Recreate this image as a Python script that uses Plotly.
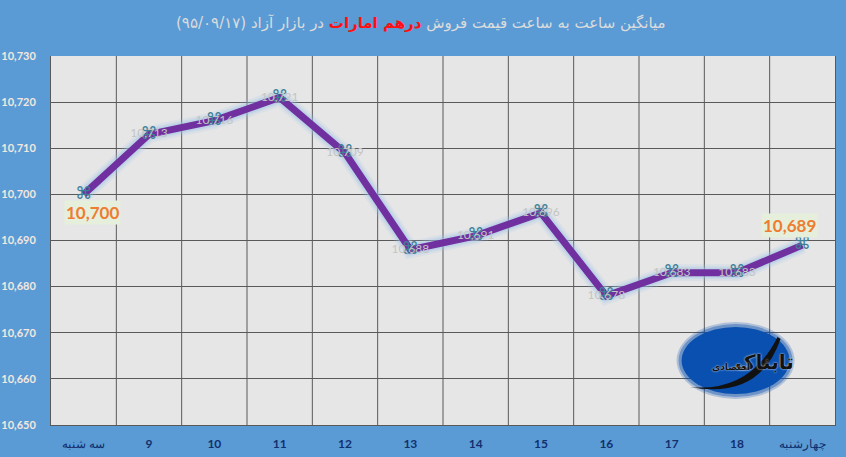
import plotly.graph_objects as go

categories = ['سه شنبه', '9', '10', '11', '12', '13', '14', '15', '16', '17', '18', 'چهارشنبه']
tick_text = ['سه شنبه', '<b>9</b>', '<b>10</b>', '<b>11</b>', '<b>12</b>', '<b>13</b>', '<b>14</b>', '<b>15</b>',
             '<b>16</b>', '<b>17</b>', '<b>18</b>', 'چهارشنبه']
prices = [10700, 10713, 10716, 10721, 10709, 10688, 10691, 10696, 10678, 10683, 10683, 10689]
y_ticks = [10650, 10660, 10670, 10680, 10690, 10700, 10710, 10720, 10730]
price_labels = [f'{p:,}' for p in prices]
mid_labels = [t if i not in (0, 11) else '' for i, t in enumerate(price_labels)]

bg = '#5b9bd5'
title_font = 'DejaVu Sans'
num_font = 'Lato'


def px_x(p):
    return (p - 51) / 784.5


def px_y(p):
    return (425 - p) / 369


fig = go.Figure()

# soft glow under the line
for w, op in [(17, 0.16), (13, 0.22), (10, 0.3)]:
    fig.add_trace(go.Scatter(x=categories, y=prices, mode='lines', hoverinfo='skip',
                             line=dict(color='#9dc3e6', width=w), opacity=op))

fig.add_trace(go.Scatter(x=categories, y=prices, mode='lines', hoverinfo='skip',
                         line=dict(color='#7030a0', width=7)))

# the odd marker looks like a command key sign
fig.add_trace(go.Scatter(x=categories, y=prices, mode='text', hoverinfo='skip',
                         text=['⌘'] * len(prices), textposition='middle center',
                         textfont=dict(family='DejaVu Sans', size=17, color='#3f7f96')))

fig.add_trace(go.Scatter(x=categories, y=prices, mode='text', hoverinfo='skip',
                         text=mid_labels, textposition='middle center',
                         textfont=dict(family=num_font, size=12, color='#c4c4c4')))

fig.add_annotation(x=categories[0], y=prices[0], text='<b>10,700</b>', showarrow=False, yshift=-18, xshift=9,
                   font=dict(family=num_font, size=17, color='#ed7d31'), bgcolor='#e6efdc', borderpad=1)
fig.add_annotation(x=categories[-1], y=prices[-1], text='<b>10,689</b>', showarrow=False, yshift=20, xshift=-13,
                   font=dict(family=num_font, size=17, color='#ed7d31'), bgcolor='#e6efdc', borderpad=1)

title = ('میانگین ساعت به ساعت قیمت فروش '
         '<span style="color:#ff1010"><b>درهم امارات</b></span>'
         ' در بازار آزاد (۹۵/۰۹/۱۷)')
fig.add_annotation(xref='paper', yref='paper', x=px_x(421), y=px_y(23), text=title, showarrow=False,
                   xanchor='center', yanchor='middle', font=dict(family=title_font, size=15, color='#dcdcdc'))

# logo stand-in
for grow, op in [(5, 0.25), (3, 0.4), (0, 1)]:
    fig.add_shape(type='circle', xref='paper', yref='paper', x0=px_x(682 - grow), x1=px_x(790 + grow),
                  y0=px_y(394 + grow), y1=px_y(327 - grow), fillcolor='#0a50b0', opacity=op,
                  line=dict(width=0), layer='above')
fig.add_shape(type='path', xref='paper', yref='paper', layer='above', line=dict(width=0), fillcolor='#111111',
              path=f'M {px_x(690)} {px_y(387)} Q {px_x(750)} {px_y(393)} {px_x(778)} {px_y(337)} '
                   f'L {px_x(781)} {px_y(339)} Q {px_x(760)} {px_y(400)} {px_x(690)} {px_y(387)} Z')
fig.add_annotation(xref='paper', yref='paper', x=px_x(765), y=px_y(362), text='<b>تابناک</b>', showarrow=False,
                   xanchor='center', yanchor='middle',
                   font=dict(family=title_font, size=20, color='#111111', shadow='0 0 2px #ffffff'))
fig.add_annotation(xref='paper', yref='paper', x=px_x(731), y=px_y(367), text='<b>اقتصادی</b>', showarrow=False,
                   xanchor='center', yanchor='middle',
                   font=dict(family=title_font, size=9, color='#111111', shadow='0 0 2px #ffffff'))

fig.update_layout(width=846, height=457, autosize=False, showlegend=False,
                  paper_bgcolor=bg, plot_bgcolor='#e6e6e6',
                  margin=dict(l=51, r=11, t=56, b=32))
fig.update_xaxes(type='category', automargin=False, range=[-0.5, 11.5], showline=True, linecolor='#595959',
                 linewidth=1, showgrid=False, ticks='outside', ticklen=8, tickcolor='rgba(0,0,0,0)',
                 tickvals=categories, ticktext=tick_text,
                 tickfont=dict(family=num_font, size=12, color='#12306e'))
fig.update_yaxes(range=[10650, 10730], automargin=False, tickvals=y_ticks, tickformat=',d', showline=True,
                 linecolor='#595959', linewidth=1, mirror=True, gridcolor='#595959', gridwidth=1, zeroline=False,
                 ticks='outside', ticklen=12, tickcolor='rgba(0,0,0,0)',
                 tickfont=dict(family=num_font, size=11, color='#f2e8df', weight='bold'))
# vertical lines fall between the categories
for i in range(1, len(categories)):
    fig.add_shape(type='line', xref='x', yref='paper', x0=i - 0.5, x1=i - 0.5, y0=0, y1=1,
                  line=dict(color='#595959', width=1), layer='below')

fig.write_html('out.html', config={'displayModeBar': False}, post_script="document.body.style.margin='0';")
